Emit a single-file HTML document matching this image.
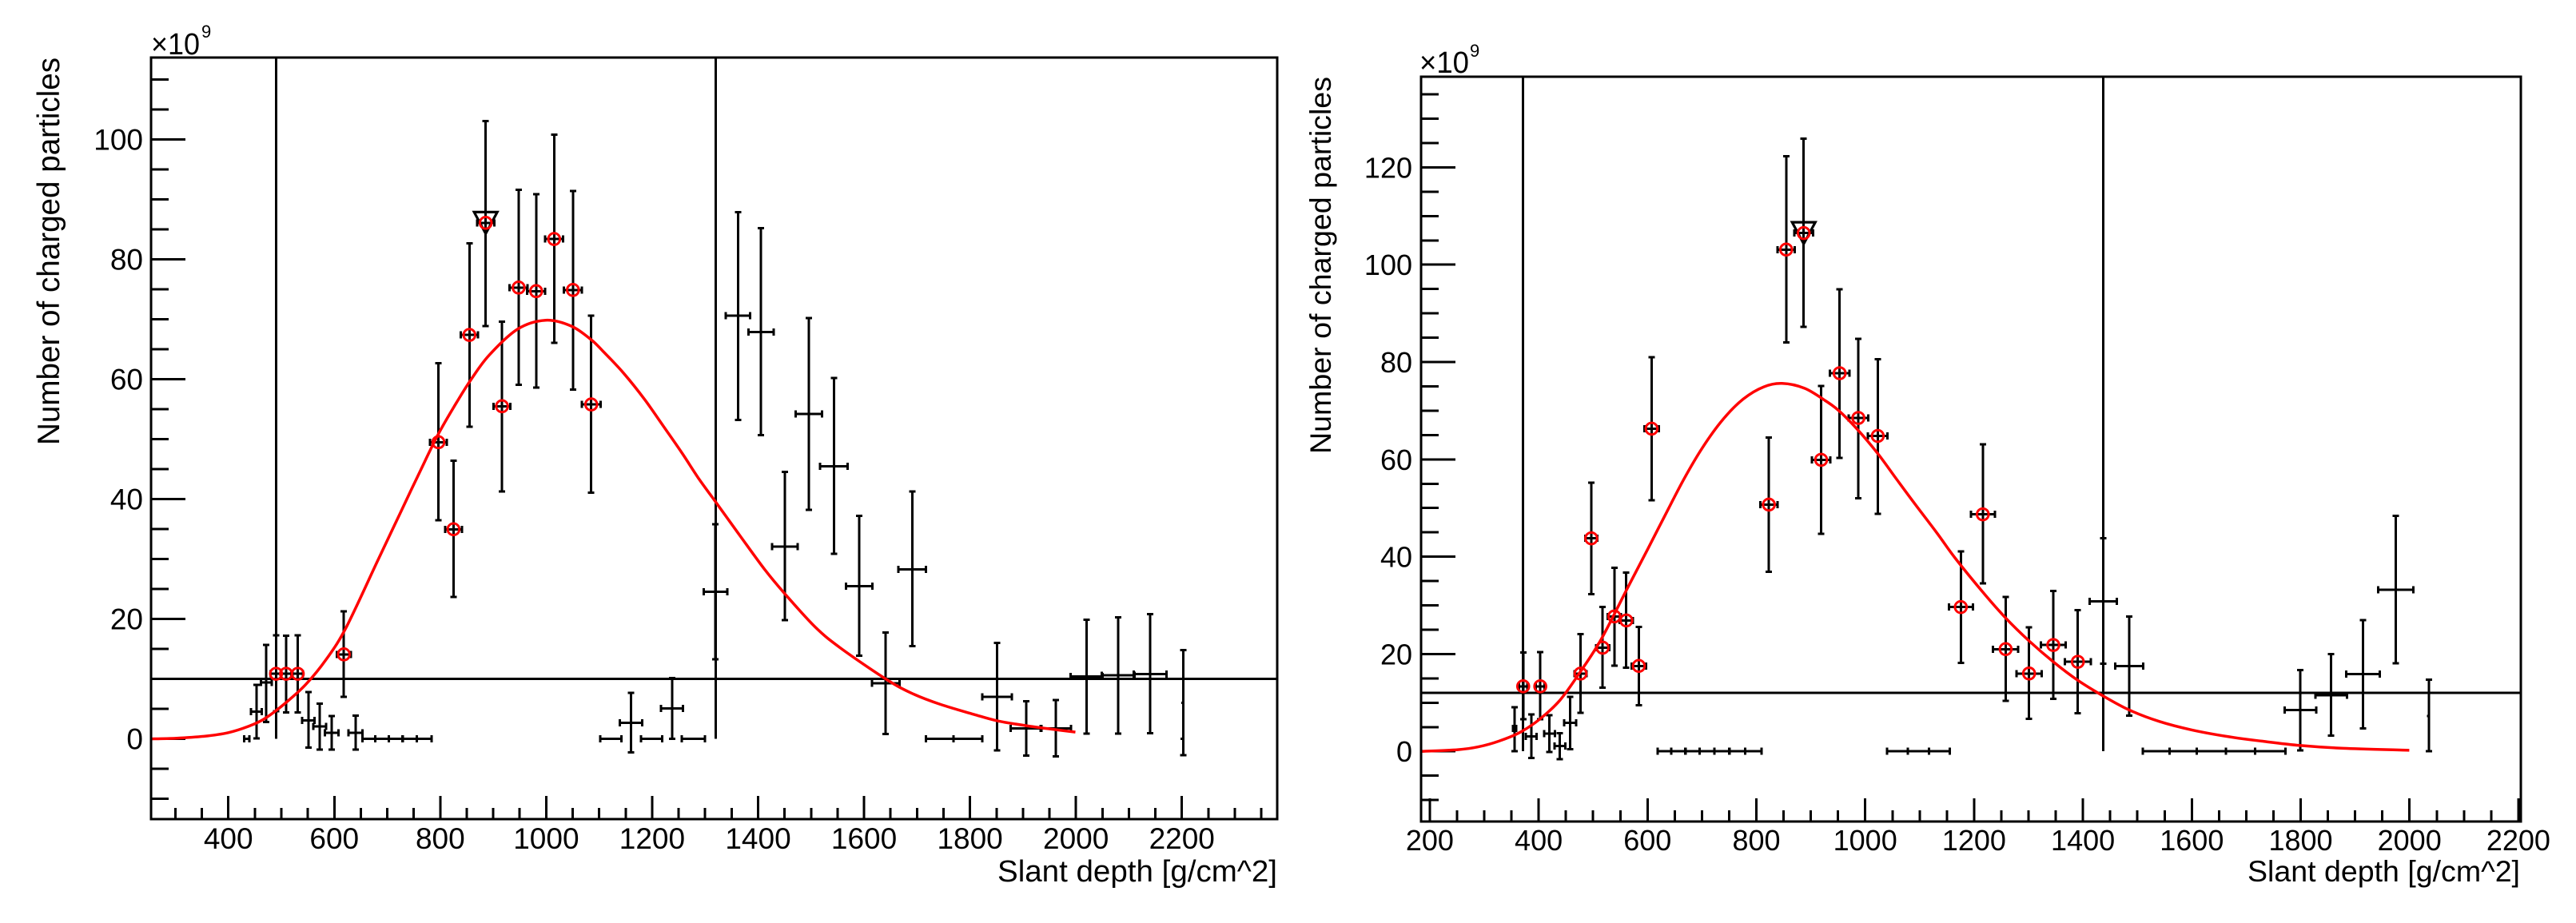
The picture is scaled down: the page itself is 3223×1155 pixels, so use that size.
<!DOCTYPE html>
<html lang="en">
<head>
<meta charset="utf-8">
<title>Charged particle shower profiles</title>
<style>
  html, body { margin: 0; padding: 0; background: #fff; }
  svg { display: block; }
  text { font-family: "Liberation Sans", sans-serif; fill: #000; }
</style>
</head>
<body>
<svg id="chart" xmlns="http://www.w3.org/2000/svg" width="3223" height="1155" viewBox="0 0 3223 1155">
  <rect x="0" y="0" width="3223" height="1155" fill="#fff"/>
  <g id="panel-left">
    <text transform="translate(74,557) rotate(-90)" font-size="38.5" textLength="485" lengthAdjust="spacingAndGlyphs">Number of charged particles</text>
    <text x="1248" y="1103" font-size="38" textLength="350" lengthAdjust="spacingAndGlyphs">Slant depth [g/cm^2]</text>
    <text x="189" y="68" font-size="38" textLength="61" lengthAdjust="spacingAndGlyphs">×10</text>
    <text x="252" y="47" font-size="22">9</text>
  </g>
  <g id="panel-right">
    <text transform="translate(1665,568) rotate(-90)" font-size="37.5" textLength="472" lengthAdjust="spacingAndGlyphs">Number of charged particles</text>
    <text x="2812" y="1103" font-size="37" textLength="341" lengthAdjust="spacingAndGlyphs">Slant depth [g/cm^2]</text>
    <text x="1776" y="91" font-size="38" textLength="62" lengthAdjust="spacingAndGlyphs">×10</text>
    <text x="1839" y="71" font-size="22">9</text>
  </g>
</svg>
<script>
/* ---------- left panel data ---------- */
const leftDepth = [435,453,471.6,490,509,531,551,572.4,595,618,640,665,690,716,742,770,796.5,825,855,885.8,916.6,948,981,1015,1050.5,1085,1122,1160,1199,1237.5,1278,1319.6,1362,1405.6,1450.6,1495.6,1543,1591,1641,1691,1743,1796,1851,1906,1962,2020,2079.5,2140,2202.6,2201];
const leftDepthErr = [5,10,10,10,10,10,12,12,13,13,13,12,13,13,13.5,14,16,16,16,16,16,17,17,17,17,18,20,21,20,21,22,22,23,24,24,25,26,25,26,26,26,27,28,29,29,30,31,31,2,2];
const leftCharged = [0,4.58,9.4,10.86,10.86,10.86,3.1,2.08,1.04,14.1,1.04,0,0,0,0,0,49.5,34.97,67.4,86.1,55.5,75.3,74.7,83.4,74.9,55.8,0,2.7,0,5.06,0,24.55,70.6,67.9,32.1,54.2,45.5,25.5,9.3,28.3,0,0,7.04,1.75,1.75,10.4,10.6,10.8,6,0];
const leftLow = [0,0.1,2.8,4.6,4.4,4.4,-1.46,-1.8,-1.8,7,-1.8,0,0,0,0,0,36.5,23.7,52.1,68.9,41.3,59.1,58.6,66.1,58.3,41.1,0,-2.25,0,0,0,13.3,53.2,50.7,19.8,38.2,30.9,13.9,0.8,15.5,0,0,-1.9,-2.8,-2.9,0.9,0.9,0.95,-2.7,0];
const leftHigh = [0,9,15.67,17.3,17.2,17.3,7.8,5.9,3.8,21.3,3.9,0,0,0,0,0,62.7,46.4,82.7,103.1,69.6,91.6,90.9,100.8,91.4,70.6,0,7.65,0,10.15,0,35.8,87.9,85.2,44.56,70.2,60.2,37.2,17.75,41.3,0,0,16,6.3,6.47,19.9,20.3,20.8,14.8,0];
const leftInWindow = [0,0,0,1,1,1,0,0,0,1,0,0,0,0,0,0,1,1,1,1,1,1,1,1,1,1,0,0,0,0,0,0,0,0,0,0,0,0,0,0,0,0,0,0,0,0,0,0,0,0];
const leftPeak = [885.8, 86.1];
const leftWindow = [490, 1320];
const leftThreshold = [10];
const leftFitDepth = [254,300,354,400,438,469,508,546,585,623,683,723,758.5,796,834,860,893,946.6,999,1046.6,1085,1108,1145.8,1186,1221,1256.4,1289,1321.8,1365,1413,1450.6,1507.4,1555,1641,1689,1744,1807,1851,1906,1965,1999];
const leftFitCharged = [0,0.1,0.43,1.04,2.1,3.4,6,9.07,13.3,18.7,29.95,37.4,44,50.8,56.6,60.2,64.1,68.4,69.85,68.9,66.6,64.6,61.05,56.6,52.2,47.7,43.3,39.3,34,28.2,24.2,18.7,15.2,10,7.65,5.76,4.1,3.03,2.2,1.5,1.14];
const leftXLabels = [400,600,800,1000,1200,1400,1600,1800,2000,2200];
const leftYLabels = [0,20,40,60,80,100];

/* ---------- right panel data ---------- */
const rightDepth = [355.8,371.6,386.5,403,420,439,457.7,477,496.7,517.6,539,561,584,607.5,631,656.6,682.8,709.4,736.8,765,794.8,823,854.8,887,919,953,987.4,1023,1059,1097.5,1136,1175.6,1216,1258,1301,1345.5,1390.6,1437,1485,1534.5,1584,1636,1689.5,1744,1799.6,1856,1914.7,1974.8,2035.7,2034];
const rightDepthErr = [3,8,10,8,10,10,11,11,11,12,12,12,13,13,12.4,13,13,13.5,13.9,14.6,15,16,16,17,17,18,18,18,19,19.5,19,22,22,23,23,23,24,25,26,24.5,25,27,26.5,28,29,29,31,32,2,2];
const rightCharged = [4.7,13.36,3.07,13.36,3.65,1.1,5.86,15.98,43.77,21.3,27.72,26.9,17.55,66.3,0,0,0,0,0,0,0,50.7,103.1,106.5,59.9,77.7,68.5,64.8,0,0,0,29.64,48.7,21,16,21.85,18.4,30.8,17.5,0,0,0,0,0,8.48,11.5,15.86,33.24,7.26,0];
const rightLow = [0.05,6.56,-1.4,6.56,-0.13,-1.6,0.45,7.95,32.3,13.07,17.6,17.2,9.46,51.6,0,0,0,0,0,0,0,36.9,84,87.2,44.7,60.3,52,48.8,0,0,0,18.2,34.5,10.4,6.67,10.8,7.8,18,7.3,0,0,0,0,0,0.2,3.24,4.7,18.1,0,0];
const rightHigh = [9.06,20.28,7.6,20.4,7.43,3.7,11.2,24.06,55.2,29.7,37.7,36.7,25.6,81,0,0,0,0,0,0,0,64.5,122.3,125.9,75.1,94.95,84.8,80.6,0,0,0,41.1,63.1,31.73,25.45,32.96,29,43.8,27.7,0,0,0,0,0,16.67,20,26.96,48.4,14.7,0];
const rightInWindow = [0,1,0,1,0,0,0,1,1,1,1,1,1,1,0,0,0,0,0,0,0,1,1,1,1,1,1,1,0,0,0,1,1,1,1,1,1,0,0,0,0,0,0,0,0,0,0,0,0,0];
const rightPeak = [887, 106.5];
const rightWindow = [371.5, 1437];
const rightThreshold = [12];
const rightFitDepth = [183.6,251.7,289,326.6,364,401.5,439,476.4,514.8,561.4,600.6,632.3,666.7,701,738.6,776,813.6,847.3,888.5,926,950.5,984.8,1023.9,1058,1092.5,1131.6,1165.9,1217,1258,1301,1345.5,1390.6,1437,1485,1540,1600,1668,1728,1800,1878.6,1999.6];
const rightFitCharged = [0,0.34,0.92,2.08,3.8,6.56,10.5,16.3,23,33.15,41.6,48.5,55.9,62.4,68.2,72.4,74.9,75.6,74.6,72.1,70.1,66.26,61.06,55.86,50.66,44.9,39.6,32.6,27.4,22.7,18.4,14.6,11.4,8.5,6.15,4.4,3,2.1,1.2,0.63,0.22];
const rightXLabels = [200,400,600,800,1000,1200,1400,1600,1800,2000,2200];
const rightYLabels = [0,20,40,60,80,100,120];

/* ---------- axis functions ---------- */
const leftX = v => 285.7 + (v - 400) * 0.6628;
const leftY = v => 924.6 - v * 7.5;
const rightX = v => 1788.9 + (v - 200) * 0.681;
const rightY = v => 940.2 - v * 6.09;

const SVGNS = 'http://www.w3.org/2000/svg';

function make(parent, tag, attrs) {
  const node = document.createElementNS(SVGNS, tag);
  for (const key in attrs) node.setAttribute(key, attrs[key]);
  parent.appendChild(node);
  return node;
}

function seg(parent, x1, y1, x2, y2, width, color) {
  return make(parent, 'line', {
    x1: x1, y1: y1, x2: x2, y2: y2,
    stroke: color || '#000',
    'stroke-width': width,
    'shape-rendering': 'crispEdges'
  });
}

function smoothPath(px, py) {
  let d = 'M' + px[0].toFixed(1) + ' ' + py[0].toFixed(1);
  for (let i = 0; i < px.length - 1; i++) {
    const i0 = Math.max(0, i - 1), i3 = Math.min(px.length - 1, i + 2);
    const c1x = px[i] + (px[i + 1] - px[i0]) / 6, c1y = py[i] + (py[i + 1] - py[i0]) / 6;
    const c2x = px[i + 1] - (px[i3] - px[i]) / 6, c2y = py[i + 1] - (py[i3] - py[i]) / 6;
    d += 'C' + [c1x, c1y, c2x, c2y, px[i + 1], py[i + 1]].map(n => n.toFixed(1)).join(' ');
  }
  return d;
}

function drawPanel(root, side, box, xAxis, yAxis, xTicks, yTicks, xLabels, yLabels, labelLayout,
                   depth, depthErr, charged, low, high, inWindow, peak, windowEdges, threshold, fitDepth, fitCharged) {
  /* y ticks */
  for (let v = yTicks.from; v <= yTicks.to; v += yTicks.step) {
    const major = v % yTicks.major === 0;
    const tick = seg(root, box.left, yAxis(v), box.left + (major ? 43 : 22), yAxis(v), 3);
    
    
  }
  /* x ticks */
  for (let v = xTicks.from; v <= xTicks.to; v += xTicks.step) {
    const major = v % xTicks.major === 0;
    const tick = seg(root, xAxis(v), box.bottom, xAxis(v), box.bottom - (major ? 29 : 14), 3);
    
    
  }
  /* tick labels */
  yLabels.forEach(v => {
    const t = make(root, 'text', { x: labelLayout.yRight, y: yAxis(v) + 13, 'font-size': labelLayout.size, 'text-anchor': 'end' });
    t.textContent = String(v);
    
    
  });
  xLabels.forEach(v => {
    const t = make(root, 'text', { x: xAxis(v), y: labelLayout.xBase, 'font-size': labelLayout.size, 'text-anchor': 'middle' });
    t.textContent = String(v);
    
    
  });

  /* error bars */
  depth.forEach((d, i) => {
    const g = make(root, 'g', {});
    
    
    const x = xAxis(d), y = yAxis(charged[i]);
    const xa = xAxis(d - depthErr[i]), xb = xAxis(d + depthErr[i]);
    if (depthErr[i] > 2) {
      seg(g, xa, y, xb, y, 3);
      seg(g, xa, y - 4.5, xa, y + 4.5, 3);
      seg(g, xb, y - 4.5, xb, y + 4.5, 3);
    } else {
      seg(g, xa - 1, y, x, y, 3);
    }
    if (high[i] !== low[i]) {
      const ya = yAxis(high[i]), yb = yAxis(low[i]);
      seg(g, x, ya, x, yb, 3);
      seg(g, x - 4, ya, x + 4, ya, 3);
      seg(g, x - 4, yb, x + 4, yb, 3);
    }
  });

  /* selection window and threshold lines */
  windowEdges.forEach(v => {
    const l = seg(root, xAxis(v), box.top, xAxis(v), yAxis(0), 3);
    
    
  });
  threshold.forEach(v => {
    const l = seg(root, box.left, yAxis(v), box.right, yAxis(v), 3);
    
    
  });

  /* peak triangle */
  const px = xAxis(peak[0]), py = yAxis(peak[1]);
  const tri = make(root, 'polygon', {
    points: (px - 14.5) + ',' + (py - 13.5) + ' ' + (px + 14.5) + ',' + (py - 13.5) + ' ' + px + ',' + (py + 13.5),
    fill: 'none', stroke: '#000', 'stroke-width': 3.2
  });
  
  

  /* fitted curve */
  const fit = make(root, 'path', {
    d: smoothPath(fitDepth.map(xAxis), fitCharged.map(yAxis)),
    fill: 'none', stroke: '#ff0000', 'stroke-width': 3.5
  });
  
  

  /* red rings */
  depth.forEach((d, i) => {
    if (!inWindow[i]) return;
    const ring = make(root, 'circle', {
      cx: xAxis(d), cy: yAxis(charged[i]), r: 7.3,
      fill: 'none', stroke: '#ff0000', 'stroke-width': 3
    });
    
    
  });

  /* frame */
  const frame = make(root, 'rect', {
    x: box.left, y: box.top, width: box.right - box.left, height: box.bottom - box.top,
    fill: 'none', stroke: '#000', 'stroke-width': 3.4, 'shape-rendering': 'crispEdges'
  });
  
  
}

drawPanel(document.getElementById('panel-left'), 'left',
  { left: 189, top: 72, right: 1598, bottom: 1025 }, leftX, leftY,
  { from: 300, to: 2350, step: 50, major: 200 }, { from: -10, to: 110, step: 5, major: 20 },
  leftXLabels, leftYLabels, { yRight: 179, xBase: 1062, size: 37 },
  leftDepth, leftDepthErr, leftCharged, leftLow, leftHigh, leftInWindow,
  leftPeak, leftWindow, leftThreshold, leftFitDepth, leftFitCharged);

drawPanel(document.getElementById('panel-right'), 'right',
  { left: 1778, top: 96, right: 3154, bottom: 1028 }, rightX, rightY,
  { from: 200, to: 2200, step: 50, major: 200 }, { from: -10, to: 135, step: 5, major: 20 },
  rightXLabels, rightYLabels, { yRight: 1767, xBase: 1064, size: 36 },
  rightDepth, rightDepthErr, rightCharged, rightLow, rightHigh, rightInWindow,
  rightPeak, rightWindow, rightThreshold, rightFitDepth, rightFitCharged);
</script>
</body>
</html>
